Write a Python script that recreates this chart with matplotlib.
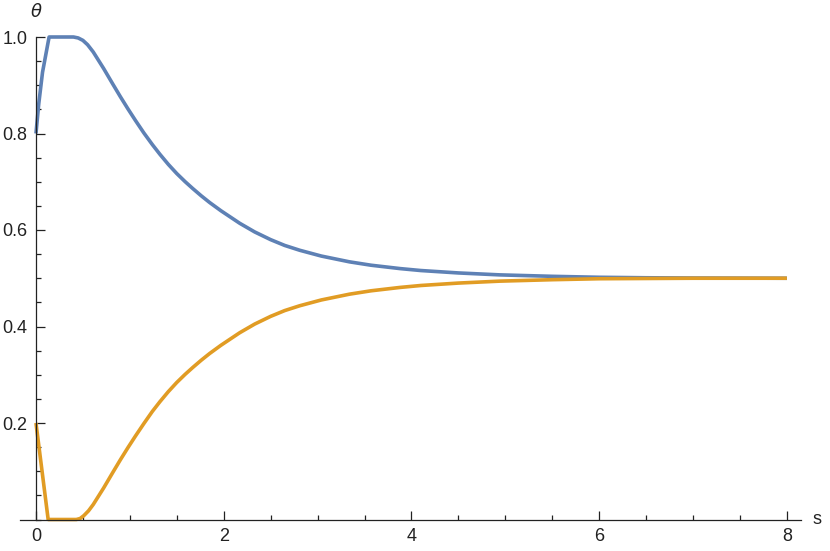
import matplotlib.pyplot as plt
from matplotlib.ticker import MultipleLocator, FixedLocator

plt.rcParams['font.family'] = ['Liberation Sans', 'DejaVu Sans']

# values
s_blue = [0, 0.03, 0.07, 0.14, 0.40, 0.45, 0.50, 0.55, 0.61, 0.72, 0.82, 0.90, 0.98,
          1.06, 1.15, 1.24, 1.32, 1.41, 1.50, 1.59, 1.67, 1.76, 1.85, 1.97,
          2.17, 2.33, 2.5, 2.65, 2.81, 3.04, 3.34, 3.57, 3.88, 4.1, 4.5, 4.94, 5.5, 6.0,
          6.5, 7.0, 8.0]
theta_blue = [0.80, 0.862, 0.927, 1.0, 1.0, 0.998, 0.993, 0.984, 0.969, 0.935, 0.902, 0.876, 0.851,
              0.827, 0.801, 0.777, 0.757, 0.736, 0.717, 0.700, 0.686, 0.671, 0.657, 0.640,
              0.614, 0.596, 0.580, 0.568, 0.558, 0.546, 0.534, 0.527, 0.520, 0.516, 0.511, 0.507,
              0.504, 0.502, 0.501, 0.5005, 0.500]

s_orange = [0, 0.13, 0.43, 0.47, 0.51, 0.56, 0.61, 0.72, 0.82, 0.90, 0.98,
            1.06, 1.15, 1.24, 1.32, 1.41, 1.50, 1.59, 1.67, 1.76, 1.85, 1.97,
            2.17, 2.33, 2.5, 2.65, 2.81, 3.04, 3.34, 3.57, 3.88, 4.1, 4.5, 4.94, 5.5, 6.0,
            6.5, 7.0, 8.0]
theta_orange = [0.20, 0.0, 0.0, 0.002, 0.008, 0.018, 0.031, 0.065, 0.098, 0.124, 0.149,
                0.173, 0.199, 0.224, 0.244, 0.265, 0.284, 0.301, 0.315, 0.330, 0.344, 0.361,
                0.387, 0.405, 0.421, 0.433, 0.443, 0.455, 0.467, 0.474, 0.481, 0.485, 0.490,
                0.494, 0.497, 0.499, 0.4995, 0.500, 0.500]

x_ticks = [0, 2, 4, 6, 8]
y_ticks = [0.2, 0.4, 0.6, 0.8, 1.0]

fig = plt.figure(figsize=(8.3, 5.51), dpi=100)
ax = fig.add_axes([20 / 830, 1 - 519.5 / 551, 781 / 830, 482.5 / 551])

ax.plot(s_blue, theta_blue, color='#5E81B5', lw=2.6, clip_on=False,
        solid_joinstyle='round', solid_capstyle='butt')
ax.plot(s_orange, theta_orange, color='#E19C24', lw=2.6, clip_on=False,
        solid_joinstyle='round', solid_capstyle='butt')

ax.set_xlim(-0.17, 8.15)
ax.set_ylim(0, 1.0)

ax.spines['top'].set_visible(False)
ax.spines['right'].set_visible(False)
ax.spines['left'].set_position(('data', 0))
ax.spines['bottom'].set_position(('data', 0))
for sp in ['left', 'bottom']:
    ax.spines[sp].set_linewidth(0.9)
    ax.spines[sp].set_color('#222222')

ax.xaxis.set_major_locator(FixedLocator(x_ticks))
ax.xaxis.set_minor_locator(MultipleLocator(0.5))
ax.yaxis.set_major_locator(FixedLocator(y_ticks))
ax.yaxis.set_minor_locator(MultipleLocator(0.05))
ax.set_xticklabels([str(v) for v in x_ticks])
ax.set_yticklabels([f'{v:.1f}' for v in y_ticks])

ax.tick_params(which='both', direction='in', color='#222222', width=0.9,
               labelsize=13, labelcolor='#222222')
ax.tick_params(which='major', length=6.5)
ax.tick_params(which='minor', length=3.5)
ax.tick_params(axis='x', pad=6)
ax.tick_params(axis='y', pad=6)

fig.text(812 / 830, 1 - 519 / 551, 's', fontsize=13, color='#222222', ha='left', va='center')
fig.text(36 / 830, 1 - 12 / 551, r'$\theta$', fontsize=13, color='#222222', ha='center', va='center')

fig.savefig('out.png', dpi=100)
